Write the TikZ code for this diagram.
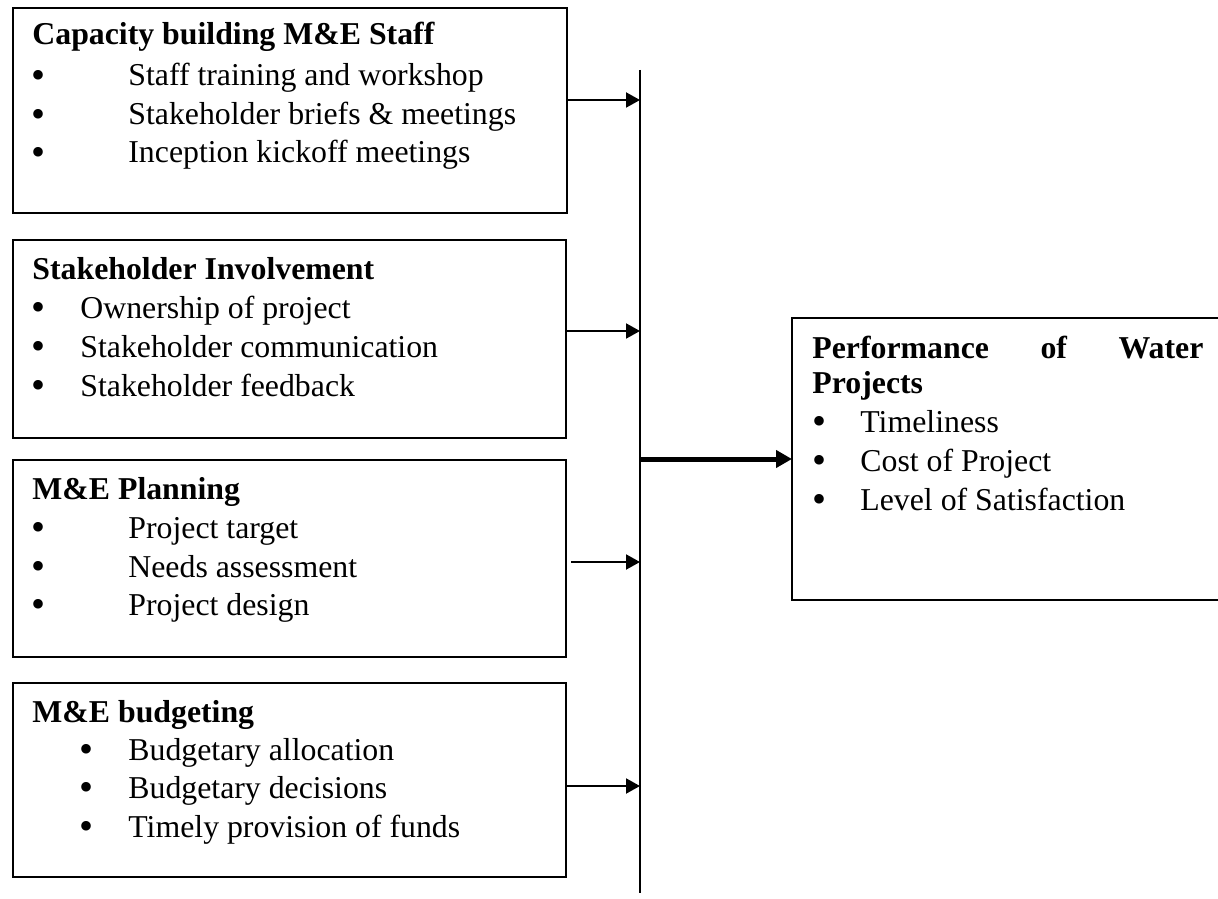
\documentclass[tikz,border=0pt]{standalone}
\usepackage{fontspec}
\setmainfont{Liberation Serif}
\usetikzlibrary{arrows.meta}
\newcommand{\bulletmark}{\raisebox{-1.4pt}[0pt][0pt]{\fontsize{20}{20}\selectfont •}}
\tikzset{
  panel/.style={draw, line width=1pt, inner sep=0pt, anchor=north west},
  txt/.style={anchor=base west, inner sep=0pt, font=\fontsize{15.9}{19}\selectfont},
  ttl/.style={txt, font=\fontsize{15.9}{19}\selectfont\bfseries},
  bul/.style={anchor=base, inner sep=0pt},
  arr/.style={line width=1pt, -{Triangle[length=7pt,width=7.5pt]}},
  bigarr/.style={line width=2.5pt, -{Triangle[length=8pt,width=8.5pt]}},
  barline/.style={line width=1pt}
}
\begin{document}
\begin{tikzpicture}[x=0.5pt,y=-0.5pt]
\useasboundingbox (0,0) rectangle (1218,898);

% boxes
\node[panel, minimum width=277pt, minimum height=102.5pt] (b1) at (12,7) {};
\node[panel, minimum width=276.5pt, minimum height=99pt] (b2) at (12,239) {};
\node[panel, minimum width=276.5pt, minimum height=98.5pt] (b3) at (12,459) {};
\node[panel, minimum width=276.5pt, minimum height=97pt] (b4) at (12,682) {};
\node[inner sep=0pt, anchor=north west, minimum width=213pt, minimum height=140.5pt] (rb) at (792,318) {};
\draw[line width=1pt] (rb.north east) -- (rb.north west) -- (rb.south west) -- (rb.south east);

% box 1
\node[ttl] (t1) at (32,45) {Capacity building M\&E Staff};
\node[bul] (p11) at (39,86) {\bulletmark};
\node[bul] (p12) at (39,125) {\bulletmark};
\node[bul] (p13) at (39,163) {\bulletmark};
\node[txt] (i11) at (128,86) {Staff training and workshop};
\node[txt] (i12) at (128,125) {Stakeholder briefs \& meetings};
\node[txt] (i13) at (128,163) {Inception kickoff meetings};

% box 2
\node[ttl] (t2) at (32,279) {Stakeholder Involvement};
\node[bul] (p21) at (39,318) {\bulletmark};
\node[bul] (p22) at (39,357) {\bulletmark};
\node[bul] (p23) at (39,396) {\bulletmark};
\node[txt] (i21) at (80,318) {Ownership of project};
\node[txt] (i22) at (80,357) {Stakeholder communication};
\node[txt] (i23) at (80,396) {Stakeholder feedback};

% box 3
\node[ttl] (t3) at (32,499) {M\&E Planning};
\node[bul] (p31) at (39,538) {\bulletmark};
\node[bul] (p32) at (39,577) {\bulletmark};
\node[bul] (p33) at (39,615) {\bulletmark};
\node[txt] (i31) at (128,538) {Project target};
\node[txt] (i32) at (128,577) {Needs assessment};
\node[txt] (i33) at (128,615) {Project design};

% box 4
\node[ttl] (t4) at (32,722) {M\&E budgeting};
\node[bul] (p41) at (87,760) {\bulletmark};
\node[bul] (p42) at (87,798) {\bulletmark};
\node[bul] (p43) at (87,837) {\bulletmark};
\node[txt] (i41) at (128,760) {Budgetary allocation};
\node[txt] (i42) at (128,798) {Budgetary decisions};
\node[txt] (i43) at (128,837) {Timely provision of funds};

% right box
\node[ttl] (r0) at (812,358) {\makebox[195.5pt][s]{Performance of Water}};
\node[ttl] (r1) at (812,393) {Projects};
\node[bul] (pr1) at (819,432) {\bulletmark};
\node[bul] (pr2) at (819,471) {\bulletmark};
\node[bul] (pr3) at (819,510) {\bulletmark};
\node[txt] (ir1) at (860,432) {Timeliness};
\node[txt] (ir2) at (860,471) {Cost of Project};
\node[txt] (ir3) at (860,510) {Level of Satisfaction};

% bar and arrows
\coordinate (bartop) at (640,70);
\coordinate (barbot) at (640,893);
\draw[barline] (bartop) -- (barbot);
\coordinate (j1) at (640,100);
\coordinate (j2) at (640,331);
\coordinate (j3) at (640,562);
\coordinate (j4) at (640,786);
\coordinate (j0) at (641,459);
\draw[arr] (b1.east |- j1) -- (j1);
\draw[arr] (b2.east |- j2) -- (j2);
\draw[arr] ([xshift=2pt]b3.east |- j3) -- (j3);
\draw[arr] (b4.east |- j4) -- (j4);
\draw[bigarr] (j0) -- (rb.west |- j0);
\end{tikzpicture}
\end{document}
